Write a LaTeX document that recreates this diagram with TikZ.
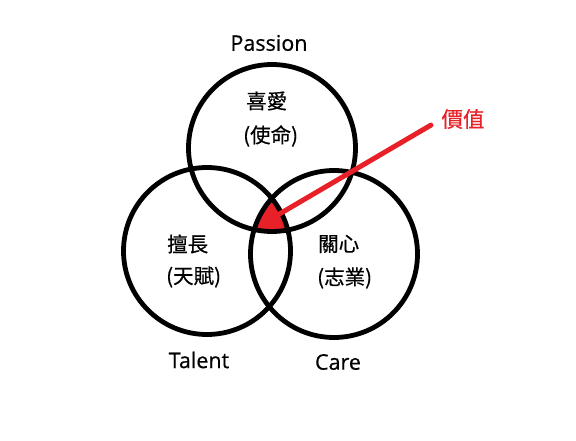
\documentclass[tikz,border=0pt]{standalone}
\usepackage{fontspec}
\setmainfont{Open Sans}[FakeBold=0.6]
\newfontfamily\cjk{Noto Sans CJK TC}[FakeBold=0.6]
\definecolor{vred}{RGB}{232,32,40}
\begin{document}
\begin{tikzpicture}[x=1pt,y=-1pt,
  ring/.style={circle,draw=black,line width=4.8pt,minimum size=167pt,inner sep=0pt},
  cjktext/.style={anchor=west,inner sep=0pt,font=\cjk\fontsize{20.5}{24}\selectfont},
  engtext/.style={inner sep=0pt,font=\fontsize{21.5}{26}\selectfont}]
\useasboundingbox (0,0) rectangle (576,441);
% red triple intersection
\begin{scope}
  \clip (272,148) circle[radius=83.5pt];
  \clip (207,251) circle[radius=83.5pt];
  \fill[vred] (334,254) circle[radius=83.5pt];
\end{scope}
\node[ring] (P) at (272,148) {};
\node[ring] (T) at (207,251) {};
\node[ring] (C) at (334,254) {};
\coordinate (v) at (276,216);
\node[inner sep=0pt,text=vred,font=\cjk\fontsize{21.5}{24}\selectfont] (val) at (463,119) {價值};
\draw[vred,line width=5pt,line cap=round,shorten >=12pt] (v) -- (val.west);
% labels inside circles
\node[cjktext] (p1) at (246,101) {喜愛};
\node[cjktext] (p2) at (243,136) {(使命)};
\node[cjktext] (t1) at (167,244) {擅長};
\node[cjktext] (t2) at (166,277) {(天賦)};
\node[cjktext] (c1) at (318,244) {關心};
\node[cjktext] (c2) at (317,278) {(志業)};
% outer labels
\node[engtext] (pl) at (269,43) {Passion};
\node[engtext] (tl) at (199,360) {Talent};
\node[engtext] (cl) at (338,362) {Care};
\end{tikzpicture}
\end{document}
